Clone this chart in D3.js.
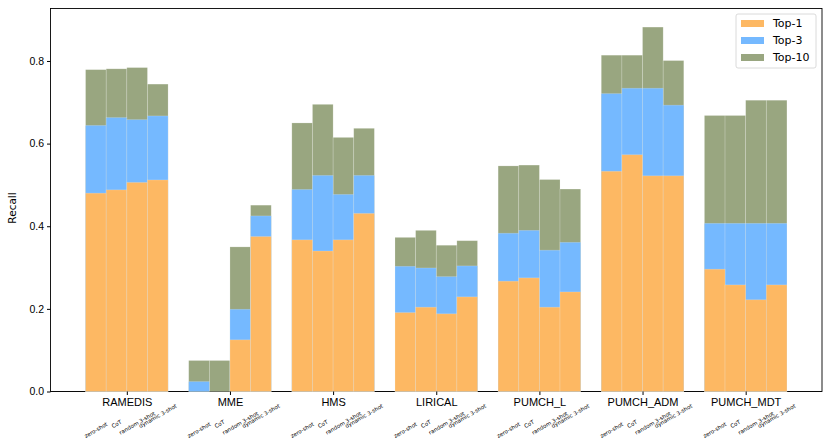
<!DOCTYPE html>
<html>
<head>
<meta charset="utf-8">
<script src="https://cdn.jsdelivr.net/npm/d3@7"></script>
<style>
  body { margin: 0; background: #fff; }
  svg { font-family: "DejaVu Sans", sans-serif; }
</style>
</head>
<body>
<svg id="chart" width="830" height="443"></svg>
<script>
// datasets and prompt settings
const datasets = ["RAMEDIS", "MME", "HMS", "LIRICAL", "PUMCH_L", "PUMCH_ADM", "PUMCH_MDT"];
const methods = ["zero-shot", "CoT", "random 3-shot", "dynamic 3-shot"];
const yTicks = [0.0, 0.2, 0.4, 0.6, 0.8];

// recall per dataset, one value per method
const top1 = [
  [0.480, 0.488, 0.506, 0.512],
  [0.000, 0.000, 0.125, 0.375],
  [0.367, 0.340, 0.367, 0.431],
  [0.191, 0.204, 0.188, 0.229],
  [0.267, 0.275, 0.204, 0.241],
  [0.533, 0.573, 0.522, 0.522],
  [0.296, 0.258, 0.222, 0.258]
];
const top3 = [
  [0.644, 0.663, 0.658, 0.667],
  [0.024, 0.000, 0.199, 0.425],
  [0.489, 0.523, 0.477, 0.523],
  [0.303, 0.299, 0.278, 0.304],
  [0.383, 0.390, 0.342, 0.361],
  [0.721, 0.734, 0.734, 0.693],
  [0.407, 0.407, 0.407, 0.407]
];
const top10 = [
  [0.779, 0.781, 0.784, 0.744],
  [0.075, 0.075, 0.350, 0.451],
  [0.650, 0.695, 0.615, 0.637],
  [0.373, 0.390, 0.354, 0.365],
  [0.546, 0.548, 0.513, 0.490],
  [0.814, 0.814, 0.882, 0.801],
  [0.668, 0.668, 0.705, 0.705]
];

const seriesNames = ["Top-1", "Top-3", "Top-10"];
const colors = { "Top-1": "#fdb863", "Top-3": "#75b9ff", "Top-10": "#99a680" };

const svg = d3.select("#chart");
const mLeft = 50.5, mRight = 822, mTop = 8.5, mBottom = 391.5;
const barW = 0.2;

const x = d3.scaleLinear().domain([-0.74, datasets.length - 1 + 0.74]).range([mLeft, mRight]);
const y = d3.scaleLinear().domain([0, 0.927]).range([mBottom, mTop]);

// frame
svg.append("rect")
  .attr("x", mLeft).attr("y", mTop)
  .attr("width", mRight - mLeft).attr("height", mBottom - mTop)
  .attr("fill", "none").attr("stroke", "#000").attr("stroke-width", 0.9);

// y axis
const yAxis = d3.axisLeft(y).tickValues(yTicks).tickFormat(d3.format(".1f")).tickSize(3.5).tickPadding(3);
const gy = svg.append("g").attr("transform", "translate(" + mLeft + ",0)").call(yAxis);
gy.select(".domain").remove();
gy.selectAll("text").style("font-size", "10.5px").attr("fill", "#000");
gy.selectAll("line").attr("stroke", "#000");

svg.append("text")
  .attr("transform", "translate(16,208) rotate(-90)")
  .attr("text-anchor", "middle")
  .style("font-size", "10.5px")
  .text("Recall");

// bars: top-10 behind, then top-3, then top-1
const layers = [["Top-10", top10], ["Top-3", top3], ["Top-1", top1]];
const barLayer = svg.append("g");
layers.forEach(([name, vals]) => {
  const rows = [];
  vals.forEach((row, i) => row.forEach((v, j) => rows.push({ i, j, v })));
  barLayer.append("g").selectAll("rect")
    .data(rows)
    .join("rect")
      .attr("x", d => x(d.i + (d.j - 2) * barW))
      .attr("width", d => x(barW) - x(0))
      .attr("y", d => y(d.v))
      .attr("height", d => y(0) - y(d.v))
      .attr("fill", colors[name])
      .attr("stroke", "#ffffff")
      .attr("stroke-opacity", 0.25)
      .attr("stroke-width", 0.7);
});

// bottom spine in grey between bars
svg.append("line")
  .attr("x1", mLeft).attr("x2", mRight).attr("y1", mBottom).attr("y2", mBottom)
  .attr("stroke", "#666").attr("stroke-width", 1).lower();

// x axis with dataset names
const xAxis = d3.axisBottom(x)
  .tickValues(d3.range(datasets.length))
  .tickFormat(i => datasets[i])
  .tickSize(3.5).tickPadding(3);
const gx = svg.append("g").attr("transform", "translate(0," + mBottom + ")").call(xAxis);
gx.select(".domain").remove();
gx.selectAll("text").style("font-size", "11px").attr("fill", "#000");
gx.selectAll("line").attr("stroke", "#000");

// small method labels under each bar
const labelY = [430, 424, 423, 416];
const small = [];
datasets.forEach((ds, i) => methods.forEach((m, j) => small.push({ i, j, m })));
svg.append("g").selectAll("text")
  .data(small)
  .join("text")
    .attr("transform", d => "translate(" + x(d.i + (d.j - 1.5) * barW) + "," + labelY[d.j] + ") rotate(-30)")
    .attr("text-anchor", "middle")
    .attr("dy", "0.35em")
    .style("font-size", "5.5px")
    .text(d => d.m);

// legend
const lg = svg.append("g").attr("transform", "translate(736,14)");
lg.append("rect")
  .attr("width", 80).attr("height", 54).attr("rx", 2)
  .attr("fill", "#fff").attr("fill-opacity", 0.8)
  .attr("stroke", "#d0d0d0").attr("stroke-width", 0.8);
seriesNames.forEach((name, k) => {
  const row = lg.append("g").attr("transform", "translate(5," + (9.5 + k * 17) + ")");
  row.append("rect")
    .attr("x", 0).attr("y", -3.5).attr("width", 23).attr("height", 7)
    .attr("fill", colors[name]);
  row.append("text")
    .attr("x", 32).attr("dy", "0.35em")
    .style("font-size", "11px")
    .text(name);
});
</script>
</body>
</html>
